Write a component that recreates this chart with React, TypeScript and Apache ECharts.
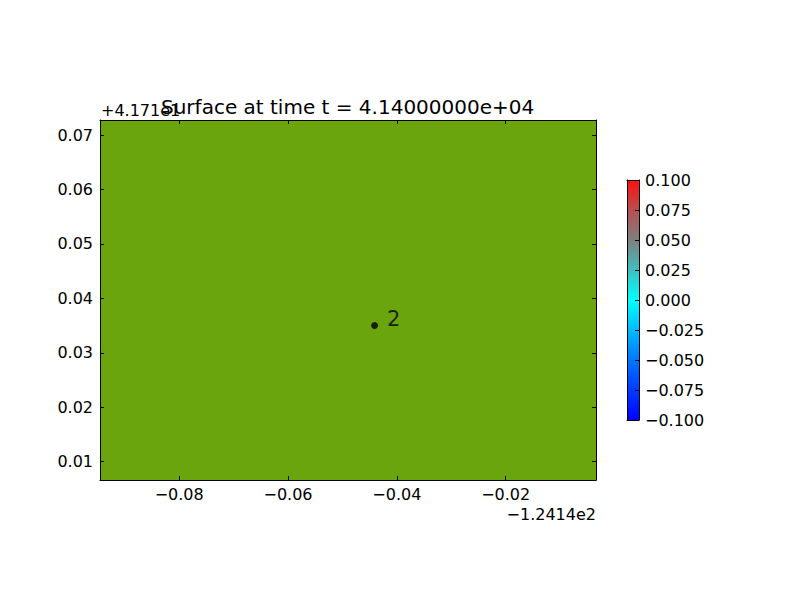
import React, { useEffect, useRef } from "react";
import * as echarts from "echarts";

const titleText = "Surface at time t = 4.14000000e+04";
const xOffsetText = "\u22121.2414e2";
const yOffsetText = "+4.171e1";
const xRange = [-0.09455, -0.00341];
const yRange = [0.00664, 0.07276];
const xTicks = [-0.08, -0.06, -0.04, -0.02];
const yTicks = [0.01, 0.02, 0.03, 0.04, 0.05, 0.06, 0.07];
const points = [[-0.0441, 0.035]];
const pointLabels = ["2"];
const cbRange = [-0.1, 0.1];
const cbStops = [
  { offset: 0, color: "#ff0e0e" },
  { offset: 0.25, color: "#b84f4f" },
  { offset: 0.5, color: "#7f7f7f" },
  { offset: 0.75, color: "#3fbfbf" },
  { offset: 1.0, color: "#00ffff" },
];
const cbStopsLow = [
  { offset: 0, color: "#00ffff" },
  { offset: 0.25, color: "#00bbff" },
  { offset: 0.5, color: "#0077ff" },
  { offset: 0.75, color: "#003bff" },
  { offset: 1.0, color: "#0000ff" },
];
const fieldColor = "#6aa50e";

const FONT = "DejaVu Sans";
const fmt = (v: number, d: number) => {
  const s = Math.abs(v).toFixed(d);
  return (v < -1e-12 ? "\u2212" : "") + s;
};

export default function App() {
  const ref = useRef<HTMLDivElement>(null);
  useEffect(() => {
    if (!ref.current) return;
    const chart = echarts.init(ref.current, null, { renderer: "svg" });
    const allStops = [
      ...cbStops.map((s) => ({ offset: s.offset * 0.5, color: s.color })),
      ...cbStopsLow.map((s) => ({ offset: 0.5 + s.offset * 0.5, color: s.color })),
    ];
    const tickStyle = { show: true, inside: true, length: 4, lineStyle: { color: "#000", width: 1 } };
    const lineStyle = { show: true, onZero: false, lineStyle: { color: "#000", width: 1 } };
    const labelStyle = { color: "#000", fontFamily: FONT, fontSize: 16 };
    chart.setOption({
      animation: false,
      backgroundColor: "#fff",
      grid: [
        { left: 100, top: 120, width: 496, height: 360, show: true, backgroundColor: fieldColor, borderWidth: 0 },
        {
          left: 627, top: 180, width: 12, height: 240, show: true, borderWidth: 0,
          backgroundColor: new echarts.graphic.LinearGradient(0, 0, 0, 1, allStops),
        },
      ],
      xAxis: [
        {
          type: "value", gridIndex: 0, position: "bottom", min: xRange[0], max: xRange[1],
          axisLine: lineStyle, splitLine: { show: false },
          axisTick: { ...tickStyle, customValues: xTicks },
          axisLabel: { ...labelStyle, margin: 6, customValues: xTicks, formatter: (v: number) => fmt(v, 2) },
        },
        {
          type: "value", gridIndex: 0, position: "top", min: xRange[0], max: xRange[1],
          axisLine: lineStyle, splitLine: { show: false },
          axisTick: { ...tickStyle, customValues: xTicks },
          axisLabel: { show: false },
        },
        {
          type: "value", gridIndex: 1, min: 0, max: 1, show: true,
          axisLine: lineStyle, axisTick: { show: false }, axisLabel: { show: false }, splitLine: { show: false },
        },
        {
          type: "value", gridIndex: 1, position: "top", min: 0, max: 1, show: true,
          axisLine: lineStyle, axisTick: { show: false }, axisLabel: { show: false }, splitLine: { show: false },
        },
      ],
      yAxis: [
        {
          type: "value", gridIndex: 0, position: "left", min: yRange[0], max: yRange[1],
          axisLine: lineStyle, splitLine: { show: false },
          axisTick: { ...tickStyle, customValues: yTicks },
          axisLabel: { ...labelStyle, margin: 7, customValues: yTicks, formatter: (v: number) => fmt(v, 2) },
        },
        {
          type: "value", gridIndex: 0, position: "right", min: yRange[0], max: yRange[1],
          axisLine: lineStyle, splitLine: { show: false },
          axisTick: { ...tickStyle, customValues: yTicks },
          axisLabel: { show: false },
        },
        {
          type: "value", gridIndex: 1, position: "right", min: cbRange[0], max: cbRange[1], interval: 0.025,
          axisLine: lineStyle, splitLine: { show: false },
          axisTick: tickStyle,
          axisLabel: { ...labelStyle, margin: 6, formatter: (v: number) => fmt(v, 3) },
        },
        {
          type: "value", gridIndex: 1, position: "left", min: cbRange[0], max: cbRange[1],
          axisLine: lineStyle, splitLine: { show: false }, axisTick: { show: false }, axisLabel: { show: false },
        },
      ],
      series: [
        {
          type: "scatter", xAxisIndex: 0, yAxisIndex: 0,
          data: points.map((p, i) => ({ value: p, name: pointLabels[i] })),
          symbol: "circle", symbolSize: 7,
          itemStyle: { color: "#000" },
          label: {
            show: true, position: "right", distance: 9, offset: [0, -7],
            formatter: (p: any) => p.name, color: "#000", fontFamily: FONT, fontSize: 21,
          },
        },
      ],
      graphic: [
        {
          type: "text", left: 348 - 187, top: 97,
          style: { text: titleText, fill: "#000", font: `20px "${FONT}"` },
        },
        {
          type: "text", left: 101, top: 102,
          style: { text: yOffsetText, fill: "#000", font: `16px "${FONT}"` },
        },
        {
          type: "text", right: 800 - 596, top: 506,
          style: { text: xOffsetText, fill: "#000", font: `16px "${FONT}"` },
        },
      ],
    });
    return () => chart.dispose();
  }, []);
  return (
    <div
      ref={ref}
      style={{ position: "fixed", left: 0, top: 0, width: 800, height: 600, background: "#fff" }}
    />
  );
}
